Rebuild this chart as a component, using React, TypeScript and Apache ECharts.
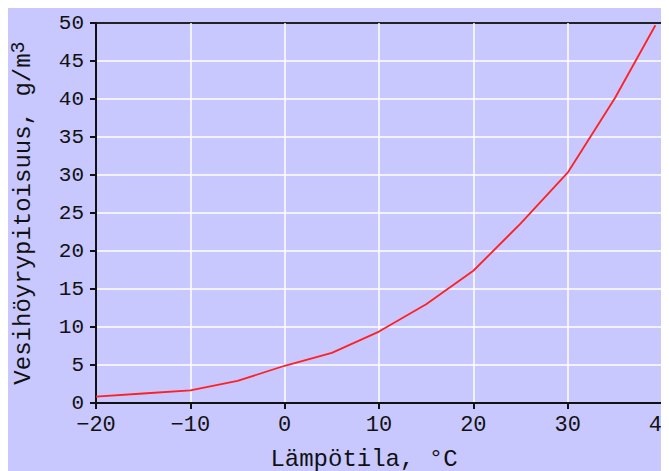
import React, { useEffect, useRef } from "react";
import * as echarts from "echarts";

const temperatures = [-20, -15, -10, -5, 0, 5, 10, 15, 20, 25, 30, 35, 39.3];
const vapourDensity = [0.85, 1.25, 1.65, 2.9, 4.9, 6.6, 9.4, 13.0, 17.4, 23.6, 30.3, 40.1, 49.7];
const xTitle = "Lämpötila, °C";
const yTitle = "Vesihöyrypitoisuus, g/m{sup|3}";

const FONT = "'Liberation Mono', 'DejaVu Sans Mono', monospace";

export default function App() {
  const ref = useRef<HTMLDivElement>(null);
  useEffect(() => {
    if (!ref.current) return;
    const chart = echarts.init(ref.current, undefined, { renderer: "svg" });
    const data = temperatures.map((t, i) => [t, vapourDensity[i]]);
    chart.setOption({
      animation: false,
      backgroundColor: "#c8c8ff",
      grid: {
        left: 88,
        right: 7,
        top: 15,
        bottom: 68,
        containLabel: false,
        outerBoundsMode: "none",
        show: true,
        borderColor: "#222",
        borderWidth: 2,
        backgroundColor: "transparent",
      },
      xAxis: {
        type: "value",
        min: -20,
        max: 40,
        interval: 10,
        name: xTitle,
        nameLocation: "middle",
        nameGap: 44,
        nameTextStyle: {
          fontFamily: FONT,
          fontSize: 24,
          color: "#111",
          padding: [0, 30, 0, 0],
        },
        axisLine: { show: true, onZero: false, lineStyle: { color: "#111", width: 2 } },
        axisTick: { show: true, length: 6, lineStyle: { color: "#111", width: 2 } },
        axisLabel: {
          fontFamily: FONT,
          fontSize: 22,
          color: "#111",
          margin: 11,
          formatter: (v: number) => (v < 0 ? "\u2212" + Math.abs(v) : String(v)),
        },
        splitLine: {
          show: true,
          showMinLine: false,
          showMaxLine: false,
          lineStyle: { color: "#ffffff", width: 1.5 },
        },
      },
      yAxis: {
        type: "value",
        min: 0,
        max: 50,
        interval: 5,
        name: yTitle,
        nameLocation: "middle",
        nameGap: 58,
        nameTextStyle: {
          fontFamily: FONT,
          fontSize: 24,
          color: "#111",
          lineHeight: 30,
          rich: {
            sup: {
              fontFamily: FONT,
              fontSize: 20,
              color: "#111",
              verticalAlign: "top",
              lineHeight: 30,
              padding: [0, 0, 12, 0],
            },
          },
        },
        axisLine: { show: true, onZero: false, lineStyle: { color: "#111", width: 2 } },
        axisTick: { show: true, length: 6, lineStyle: { color: "#111", width: 2 } },
        axisLabel: {
          fontFamily: FONT,
          fontSize: 21,
          color: "#111",
          margin: 12,
        },
        splitLine: {
          show: true,
          showMinLine: false,
          showMaxLine: false,
          lineStyle: { color: "#ffffff", width: 1.5 },
        },
      },
      series: [
        {
          type: "line",
          data,
          showSymbol: false,
          smooth: false,
          lineStyle: { color: "#ff2020", width: 1.8 },
        },
      ],
    });
    return () => chart.dispose();
  }, []);
  return <div ref={ref} style={{ width: 661, height: 463 }} />;
}
